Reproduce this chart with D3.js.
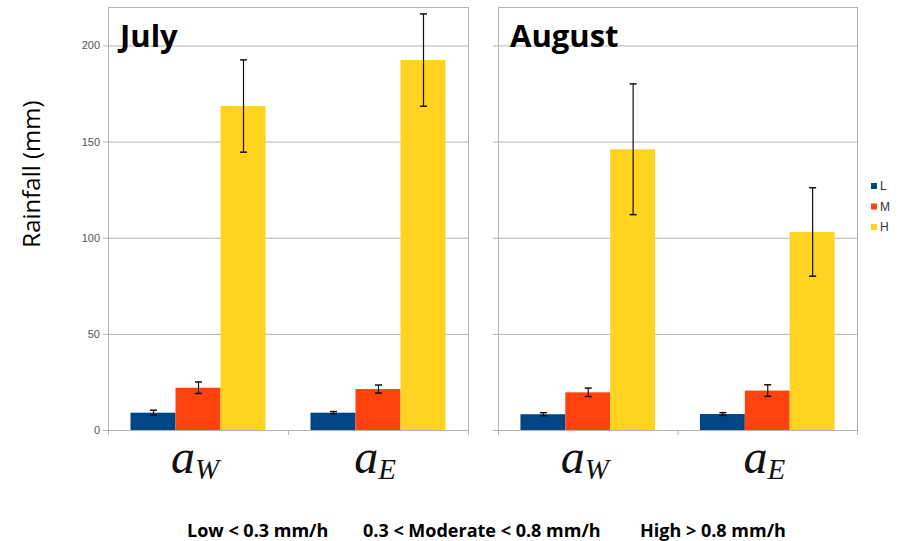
<!DOCTYPE html>
<meta charset="utf-8">
<script src="https://d3js.org/d3.v7.min.js"></script>
<div id="chart"></div>
<style>
  body { margin: 0; background: #fff; }
</style>
<script>

// data
var months = ["July", "August"];
var sites = ["aW", "aE"];
var classes = ["L", "M", "H"];
var colors = ["#004586", "#ff420e", "#ffd320"];

// values[month][site][class]
var julyMeans = [[9, 22, 168.5], [9, 21.3, 192.4]];
var julyErr = [[1.3, 3, 24], [0.6, 2.1, 24]];
var augMeans = [[8.2, 19.6, 146], [8.3, 20.5, 103]];
var augErr = [[0.8, 2.2, 34], [0.7, 3, 23]];

var yTicks = [0, 50, 100, 150, 200];
var footText = ["Low < 0.3 mm/h", "0.3 < Moderate < 0.8 mm/h", "High > 0.8 mm/h"];

var panels = [
  {name: months[0], means: julyMeans, err: julyErr, left: 108, right: 468, labels: true},
  {name: months[1], means: augMeans, err: augErr, left: 498, right: 857, labels: false}
];

var width = 904, height = 541;
var grid = "#b3b3b3";

var svg = d3.select("#chart").append("svg")
  .attr("width", width)
  .attr("height", height);

var y = d3.scaleLinear().domain([0, 220]).range([430, 7]);

panels.forEach(function(p) {
  var g = svg.append("g");

  var x0 = d3.scaleBand().domain(sites).range([p.left, p.right]);
  var bw = x0.bandwidth();
  var x1 = d3.scaleBand().domain(classes).range([bw * 0.125, bw * 0.875]);

  // gridlines
  g.selectAll(".grid").data(yTicks).enter().append("line")
    .attr("x1", p.left - 5).attr("x2", p.right)
    .attr("y1", function(d) { return y(d) + 0.5; })
    .attr("y2", function(d) { return y(d) + 0.5; })
    .style("stroke", grid);

  // frame
  g.append("rect")
    .attr("x", p.left + 0.5).attr("y", y.range()[1] + 0.5)
    .attr("width", p.right - p.left).attr("height", y(0) - y.range()[1])
    .style("fill", "none").style("stroke", grid);

  // category ticks below axis
  g.selectAll(".ctick").data([p.left, p.left + bw, p.right]).enter().append("line")
    .attr("x1", function(d) { return d + 0.5; })
    .attr("x2", function(d) { return d + 0.5; })
    .attr("y1", y(0)).attr("y2", y(0) + 5)
    .style("stroke", grid);

  if (p.labels) {
    g.selectAll(".ylab").data(yTicks).enter().append("text")
      .attr("x", p.left - 8)
      .attr("y", function(d) { return y(d) + 4; })
      .attr("text-anchor", "end")
      .style("font-family", "'Liberation Sans Narrow', 'Liberation Sans', sans-serif")
      .style("font-size", "11px")
      .style("fill", "#555")
      .text(function(d) { return d; });
  }

  // bars
  sites.forEach(function(s, si) {
    var rows = classes.map(function(c, ci) {
      return {c: c, v: p.means[si][ci], e: p.err[si][ci], col: colors[ci]};
    });
    var sg = g.append("g").attr("transform", "translate(" + x0(s) + ",0)");

    sg.selectAll("rect").data(rows).enter().append("rect")
      .attr("x", function(d) { return x1(d.c); })
      .attr("width", x1.bandwidth())
      .attr("y", function(d) { return y(d.v); })
      .attr("height", function(d) { return y(0) - y(d.v); })
      .style("fill", function(d) { return d.col; });

    // error bars
    var eb = sg.selectAll(".eb").data(rows).enter().append("g")
      .attr("transform", function(d) { return "translate(" + (x1(d.c) + x1.bandwidth() / 2) + ",0)"; });
    eb.append("line")
      .attr("x1", 0.5).attr("x2", 0.5)
      .attr("y1", function(d) { return y(d.v + d.e); })
      .attr("y2", function(d) { return y(d.v - d.e); })
      .style("stroke", "#111").style("stroke-width", 1.2);
    eb.selectAll(".cap").data(function(d) { return [d.v + d.e, d.v - d.e]; }).enter().append("line")
      .attr("x1", -3).attr("x2", 4)
      .attr("y1", function(d) { return y(d); })
      .attr("y2", function(d) { return y(d); })
      .style("stroke", "#111").style("stroke-width", 1.5);

    // math-style category label
    var t = svg.append("text")
      .attr("x", x0(s) + bw / 2 - 3)
      .attr("y", 473)
      .attr("text-anchor", "middle")
      .style("font-family", "'Liberation Serif', 'DejaVu Serif', serif")
      .style("font-style", "italic")
      .style("fill", "#111");
    t.append("tspan").style("font-size", "48px").text("a");
    t.append("tspan").attr("dy", 6).style("font-size", "29px").text(s.slice(1));
  });

  // month title
  g.append("text")
    .attr("x", p.left + 12)
    .attr("y", 47)
    .style("font-family", "'Open Sans', sans-serif")
    .style("font-weight", "bold")
    .style("font-size", "31px")
    .style("fill", "#000")
    .text(p.name);
});

// legend
var leg = svg.append("g").attr("transform", "translate(871,186)");
classes.forEach(function(c, i) {
  leg.append("rect")
    .attr("x", 0).attr("y", i * 20.5 - 3)
    .attr("width", 6).attr("height", 6)
    .style("fill", colors[i]);
  leg.append("text")
    .attr("x", 9).attr("y", i * 20.5 + 4)
    .style("font-family", "'Liberation Sans Narrow', 'Liberation Sans', sans-serif")
    .style("font-size", "12px")
    .style("fill", "#333")
    .text(c);
});

// y axis title
svg.append("text")
  .attr("transform", "translate(40,174) rotate(-90)")
  .attr("text-anchor", "middle")
  .style("font-family", "'Open Sans', sans-serif")
  .style("font-size", "24px")
  .style("fill", "#000")
  .text("Rainfall (mm)");

// footnote with the class limits
var footX = [187, 363, 640];
svg.selectAll(".foot").data(footText).enter().append("text")
  .attr("x", function(d, i) { return footX[i]; })
  .attr("y", 537)
  .style("font-family", "'Open Sans', sans-serif")
  .style("font-weight", "bold")
  .style("font-size", "18px")
  .style("fill", "#000")
  .text(function(d) { return d; });

</script>
